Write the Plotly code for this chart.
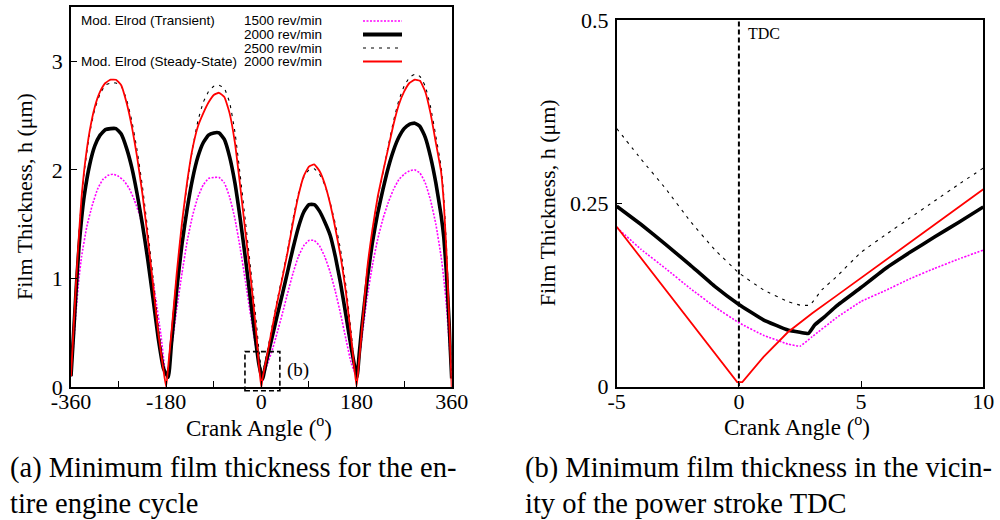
import plotly.graph_objects as go

# ---------------- full engine cycle (crank angle, film thickness in um) ----------------
cyc_deg_1500 = [-360, -355, -350, -345, -340, -330, -320, -310, -300, -290, -280, -270, -260, -250,
                -240, -230, -220, -210, -200, -190, -182, -178, -170, -160, -150, -140, -130, -120,
                -110, -100, -90, -80, -70, -60, -50, -40, -30, -20, -10, -5, 0, 2.5, 5, 10, 20, 30,
                40, 50, 60, 70, 80, 90, 100, 110, 120, 130, 140, 150, 160, 170, 180, 185, 190, 200,
                210, 220, 230, 240, 250, 260, 270, 280, 290, 300, 310, 320, 330, 340, 345, 350, 355, 360]
cyc_h_1500 = [0.10, 0.40, 0.72, 1.00, 1.20, 1.48, 1.67, 1.82, 1.91, 1.95, 1.96, 1.94, 1.90, 1.83,
              1.72, 1.58, 1.38, 1.12, 0.82, 0.48, 0.15, 0.10, 0.35, 0.72, 1.05, 1.35, 1.58, 1.75,
              1.86, 1.92, 1.93, 1.93, 1.88, 1.75, 1.55, 1.28, 0.97, 0.65, 0.35, 0.22, 0.09, 0.06, 0.11, 0.19, 0.33, 0.50,
              0.68, 0.87, 1.05, 1.20, 1.30, 1.35, 1.35, 1.30, 1.20, 1.06, 0.88, 0.67, 0.44, 0.22, 0.10, 0.25, 0.45, 0.82,
              1.12, 1.36, 1.55, 1.70, 1.82, 1.91, 1.96, 1.99, 2.00, 1.97, 1.88, 1.72, 1.50, 1.20, 1.00, 0.75, 0.42, 0.08]

cyc_deg_2000 = [-360, -355, -350, -345, -340, -335, -325, -315, -305, -295, -285, -275, -265, -255,
                -245, -235, -225, -215, -205, -195, -185, -176, -170, -160, -150, -140, -130, -120,
                -110, -100, -90, -80, -70, -60, -50, -40, -30, -20, -10, -5, 0, 2.8, 5, 10, 20, 30,
                40, 50, 60, 70, 80, 90, 100, 110, 120, 130, 140, 150, 160, 170, 181, 185, 190, 200,
                210, 220, 230, 240, 250, 260, 270, 280, 290, 300, 310, 320, 330, 340, 345, 350, 355, 360]
cyc_h_2000 = [0.10, 0.50, 0.92, 1.28, 1.55, 1.76, 2.04, 2.22, 2.32, 2.37, 2.38, 2.38, 2.33, 2.20,
              2.02, 1.78, 1.50, 1.18, 0.82, 0.45, 0.17, 0.09, 0.40, 0.90, 1.32, 1.65, 1.92, 2.12,
              2.25, 2.32, 2.34, 2.34, 2.28, 2.12, 1.88, 1.55, 1.18, 0.78, 0.40, 0.22, 0.11, 0.075, 0.13, 0.245, 0.45, 0.66,
              0.86, 1.07, 1.28, 1.47, 1.61, 1.68, 1.68, 1.62, 1.52, 1.40, 1.20, 0.95, 0.66, 0.36, 0.09, 0.30, 0.55, 0.98,
              1.33, 1.60, 1.82, 2.02, 2.18, 2.30, 2.38, 2.42, 2.43, 2.40, 2.30, 2.12, 1.88, 1.58, 1.38, 1.05, 0.60, 0.08]

cyc_deg_2500 = [-360, -355, -350, -345, -340, -335, -325, -315, -305, -295, -285, -275, -265, -255,
                -245, -235, -225, -215, -205, -195, -185, -179, -175, -170, -160, -150, -140, -130,
                -120, -110, -100, -90, -80, -70, -60, -50, -40, -30, -20, -10, -5, 0, 2.5, 5, 10,
                20, 30, 40, 50, 60, 70, 80, 90, 100, 110, 120, 130, 140, 150, 160, 170, 179, 185, 190,
                200, 210, 220, 230, 240, 250, 260, 270, 280, 290, 300, 310, 320, 330, 340, 345, 350, 355, 360]
cyc_h_2500 = [0.10, 0.55, 1.00, 1.40, 1.73, 1.98, 2.33, 2.56, 2.70, 2.78, 2.80, 2.80, 2.77, 2.65,
              2.45, 2.18, 1.85, 1.45, 1.02, 0.56, 0.20, 0.08, 0.25, 0.48, 1.02, 1.50, 1.88, 2.20,
              2.45, 2.62, 2.72, 2.77, 2.78, 2.75, 2.62, 2.35, 1.95, 1.52, 1.08, 0.62, 0.36, 0.16, 0.11, 0.18, 0.30,
              0.55, 0.80, 1.03, 1.27, 1.55, 1.78, 1.93, 2.00, 2.01, 1.96, 1.86, 1.70, 1.50, 1.26, 0.93, 0.50, 0.07, 0.26, 0.52,
              1.06, 1.44, 1.74, 1.97, 2.22, 2.45, 2.64, 2.77, 2.85, 2.88, 2.86, 2.77, 2.58, 2.31, 2.03, 1.76, 1.30, 0.70, 0.04]

cyc_deg_ss = [-360, -355, -350, -345, -340, -335, -325, -315, -305, -295, -285, -275, -265, -255,
              -245, -235, -225, -215, -205, -195, -185, -180, -175, -170, -160, -150, -140, -130,
              -120, -110, -100, -90, -80, -70, -60, -50, -40, -30, -20, -10, -5, 0, 0.15, 2, 5, 10,
              20, 30, 40, 50, 60, 70, 80, 90, 100, 110, 120, 130, 140, 150, 160, 170, 180, 185, 190,
              200, 210, 220, 230, 240, 250, 260, 270, 280, 290, 300, 310, 320, 330, 340, 345, 350, 355, 360]
cyc_h_ss = [0.10, 0.55, 1.00, 1.40, 1.75, 2.00, 2.35, 2.58, 2.72, 2.80, 2.83, 2.83, 2.78, 2.62,
            2.40, 2.12, 1.78, 1.38, 0.95, 0.50, 0.15, 0.00, 0.25, 0.50, 1.05, 1.52, 1.90, 2.20,
            2.40, 2.52, 2.62, 2.69, 2.71, 2.67, 2.52, 2.25, 1.85, 1.42, 1.00, 0.52, 0.22, 0.006, 0.006, 0.074, 0.148, 0.27,
            0.53, 0.78, 1.01, 1.25, 1.52, 1.76, 1.94, 2.03, 2.05, 1.99, 1.87, 1.69, 1.46, 1.20, 0.87, 0.45, 0.00, 0.25, 0.52,
            1.08, 1.45, 1.75, 1.98, 2.20, 2.42, 2.60, 2.72, 2.80, 2.83, 2.82, 2.72, 2.52, 2.25, 1.98, 1.70, 1.25, 0.65, 0.00]

# ---------------- close-up around power-stroke TDC ----------------
tdc_deg_1500 = [-5, -4, -3, -2, -1, 0, 1, 2, 2.5, 3, 4, 5, 6, 7, 8, 9, 10]
tdc_h_1500 = [0.217, 0.187, 0.161, 0.134, 0.109, 0.087, 0.070, 0.058, 0.055, 0.068, 0.094, 0.116, 0.131, 0.147, 0.161, 0.174, 0.186]

tdc_deg_2000 = [-5, -4, -3, -2, -1, 0, 1, 2, 2.5, 2.85, 3.1, 3.5, 4, 5, 6, 7, 8, 9, 10]
tdc_h_2000 = [0.246, 0.221, 0.194, 0.166, 0.137, 0.112, 0.091, 0.077, 0.074, 0.0725, 0.084, 0.095, 0.110, 0.135, 0.161, 0.183, 0.204, 0.224, 0.245]

tdc_deg_2500 = [-5, -4, -3, -2, -1, 0, 1, 2, 2.5, 2.9, 3.4, 4, 5, 6, 7, 8, 9, 10]
tdc_h_2500 = [0.352, 0.310, 0.270, 0.226, 0.187, 0.155, 0.132, 0.116, 0.111, 0.111, 0.132, 0.150, 0.183, 0.207, 0.230, 0.253, 0.276, 0.298]

tdc_deg_ss = [-5, -0.07, 0.14, 1, 2, 3, 4, 5, 6, 7, 8, 9, 10]
tdc_h_ss = [0.218, 0.006, 0.006, 0.040, 0.074, 0.100, 0.124, 0.148, 0.173, 0.197, 0.221, 0.245, 0.269]

tdc_marker_deg = [0, 0]
tdc_marker_h = [0, 0.5]

legend_rows = [
    ("Mod. Elrod (Transient)", "1500 rev/min"),
    ("", "2000 rev/min"),
    ("", "2500 rev/min"),
    ("Mod. Elrod (Steady-State)", "2000 rev/min"),
]

W, H = 1000, 520
SERIF = "Liberation Serif"
SANS = "Liberation Sans"

styles = {
    "1500": dict(color="#ff00ff", width=1.6, dash="2px,1.5px"),
    "2000": dict(color="black", width=3.6),
    "2500": dict(color="black", width=1.1, dash="3px,5px"),
    "ss": dict(color="#ff0000", width=1.8),
}


def px_x(p):
    return p / W


def px_y(p):
    return 1 - p / H


# subplot rectangles in pixels
L_X0, L_X1, L_Y0, L_Y1 = 71, 451.7, 7, 387
R_X0, R_X1, R_Y0, R_Y1 = 616.7, 983.3, 20, 386.5

fig = go.Figure()

series_a = [("1500", cyc_deg_1500, cyc_h_1500), ("2000", cyc_deg_2000, cyc_h_2000),
            ("2500", cyc_deg_2500, cyc_h_2500), ("ss", cyc_deg_ss, cyc_h_ss)]
series_b = [("1500", tdc_deg_1500, tdc_h_1500), ("2000", tdc_deg_2000, tdc_h_2000),
            ("2500", tdc_deg_2500, tdc_h_2500), ("ss", tdc_deg_ss, tdc_h_ss)]

for key, xs, ys in series_a:
    fig.add_trace(go.Scatter(x=xs, y=ys, mode="lines", line=dict(shape="spline", smoothing=0.4, **styles[key]),
                             xaxis="x", yaxis="y", showlegend=False, hoverinfo="skip"))

fig.add_trace(go.Scatter(x=tdc_marker_deg, y=tdc_marker_h, mode="lines",
                         line=dict(color="black", width=2, dash="5px,3px"),
                         xaxis="x2", yaxis="y2", showlegend=False, hoverinfo="skip"))

for key, xs, ys in series_b:
    shape = dict(shape="linear") if key == "ss" else dict(shape="spline", smoothing=0.3)
    fig.add_trace(go.Scatter(x=xs, y=ys, mode="lines", line=dict(**shape, **styles[key]),
                             xaxis="x2", yaxis="y2", showlegend=False, hoverinfo="skip"))

axis_common = dict(showline=True, linecolor="black", linewidth=1.5, mirror=True, ticks="inside",
                   ticklen=6, tickwidth=1.2, tickcolor="black", showgrid=False, zeroline=False,
                   automargin=False,
                   tickfont=dict(family=SERIF, size=22, color="black"), fixedrange=True)

fig.update_layout(
    width=W, height=H, margin=dict(l=0, r=0, t=0, b=0, autoexpand=False),
    paper_bgcolor="white", plot_bgcolor="white",
    xaxis=dict(domain=[px_x(L_X0), px_x(L_X1)], range=[-360, 360], anchor="y",
               tickvals=[-360, -180, 0, 180, 360], ticktext=["-360", "-180", "0", "180", "360"],
               minor=dict(tickvals=[-270, -90, 90, 270], ticks="inside", ticklen=6, tickcolor="black"),
               ticklabelstandoff=-6, **axis_common),
    yaxis=dict(domain=[px_y(L_Y1), px_y(L_Y0)], range=[0, 3.5], anchor="x",
               tickvals=[0, 1, 2, 3], ticklabelstandoff=2, **axis_common),
    xaxis2=dict(domain=[px_x(R_X0), px_x(R_X1)], range=[-5, 10], anchor="y2",
                tickvals=[-5, 0, 5, 10], ticktext=["-5", "0", "5", "10"],
                ticklabelstandoff=-6, **axis_common),
    yaxis2=dict(domain=[px_y(R_Y1), px_y(R_Y0)], range=[0, 0.5], anchor="x2",
                tickvals=[0, 0.25, 0.5], ticktext=["0", "0.25", "0.5"], ticklabelstandoff=2, **axis_common),
)

annotations = []
# axis titles
for cx, cy in [((L_X0 + L_X1) / 2 - 2, 426), ((R_X0 + R_X1) / 2 - 3, 425)]:
    annotations.append(dict(text="Crank Angle (<sup>o</sup>)", x=px_x(cx), y=px_y(cy), xref="paper", yref="paper",
                            showarrow=False, xanchor="center", yanchor="middle",
                            font=dict(family=SERIF, size=23, color="black")))
for cx, cy in [(24, (L_Y0 + L_Y1) / 2), (547, (R_Y0 + R_Y1) / 2)]:
    annotations.append(dict(text="Film Thickness, h (μm)", x=px_x(cx), y=px_y(cy), xref="paper", yref="paper",
                            showarrow=False, textangle=-90, xanchor="center", yanchor="middle",
                            font=dict(family=SERIF, size=22, color="black")))

# zoom-window marker on the full-cycle plot
box_deg = [-31, 35]
box_h = [-0.035, 0.326]


def deg_to_px(d):
    return L_X0 + (d + 360) / 720 * (L_X1 - L_X0)


def h_to_px(h):
    return L_Y1 - h / 3.5 * (L_Y1 - L_Y0)


fig.add_shape(type="rect", xref="paper", yref="paper",
              x0=px_x(deg_to_px(box_deg[0])), x1=px_x(deg_to_px(box_deg[1])),
              y0=px_y(h_to_px(box_h[0])), y1=px_y(h_to_px(box_h[1])),
              line=dict(color="black", width=1.6, dash="5px,3px"))
annotations.append(dict(text="(b)", x=44, y=0.16, xref="x", yref="y", showarrow=False,
                        xanchor="left", yanchor="middle", font=dict(family=SERIF, size=19, color="black")))
annotations.append(dict(text="TDC", x=0.3, y=0.482, xref="x2", yref="y2", showarrow=False,
                        xanchor="left", yanchor="middle", font=dict(family=SERIF, size=16, color="black")))

# key inside the full-cycle plot
row_y = [21, 34.5, 48, 61.5]
keys = ["1500", "2000", "2500", "ss"]
for (label, speed), ry, key in zip(legend_rows, row_y, keys):
    if label:
        annotations.append(dict(text=label, x=px_x(79), y=px_y(ry), xref="paper", yref="paper", showarrow=False,
                                xanchor="left", yanchor="middle", font=dict(family=SANS, size=13.5, color="black")))
    annotations.append(dict(text=speed, x=px_x(324), y=px_y(ry), xref="paper", yref="paper", showarrow=False,
                            xanchor="right", yanchor="middle", font=dict(family=SANS, size=13.5, color="black")))
    st = styles[key]
    fig.add_shape(type="line", xref="paper", yref="paper", x0=px_x(363), x1=px_x(402),
                  y0=px_y(ry), y1=px_y(ry),
                  line=dict(color=st["color"], width=st["width"] + (0.6 if key == "2000" else 0),
                            dash=st.get("dash", "solid")))

# sub-figure captions
captions = [
    (8, 468, "(a) Minimum film thickness for the en-"),
    (8, 503, "tire engine cycle"),
    (523, 468, "(b) Minimum film thickness in the vicin-"),
    (523, 503, "ity of the power stroke TDC"),
]
for cx, cy, txt in captions:
    annotations.append(dict(text=txt, x=px_x(cx), y=px_y(cy), xref="paper", yref="paper", showarrow=False,
                            xanchor="left", yanchor="middle", font=dict(family=SERIF, size=28.5, color="black")))

fig.update_layout(annotations=annotations)
fig.write_html("out.html")
